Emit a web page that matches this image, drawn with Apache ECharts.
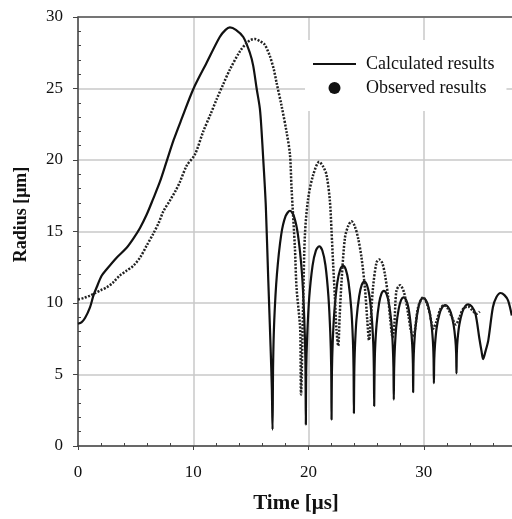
<!DOCTYPE html>
<html><head><meta charset="utf-8">
<script src="https://cdn.jsdelivr.net/npm/echarts@6/dist/echarts.min.js"></script>
<style>html,body{margin:0;padding:0;background:#fff;overflow:hidden}#c{width:540px;height:519px}</style>
</head><body><div id="c"></div>
<script>
// ---- data ----
const xTickLabels = [0, 10, 20, 30];
const yTickLabels = [0, 5, 10, 15, 20, 25, 30];
const seriesNames = ['Calculated results', 'Observed results'];

const calcTime = [0,0.3,0.61,1.04,1.33,1.62,2.05,2.49,3.35,4.22,4.8,5.38,5.95,6.53,7.11,7.69,8.3,8.99,10.0,11.16,12.3,12.8,13.18,13.7,14.34,14.91,15.2,15.5,15.78,15.93,16.07,16.2,16.3,16.51,16.71,16.82,16.88,
16.93,17.03,17.26,17.63,18.01,18.39,18.73,19.08,19.43,19.63,19.73,19.77,
19.80,19.89,20.06,20.35,20.64,20.93,21.20,21.47,21.73,21.89,21.97,22.0,
22.03,22.10,22.25,22.5,22.75,23.0,23.24,23.47,23.71,23.85,23.91,23.94,
23.97,24.03,24.16,24.40,24.62,24.85,25.06,25.28,25.49,25.62,25.67,25.7,
25.73,25.78,25.91,26.12,26.33,26.54,26.76,26.97,27.19,27.31,27.37,27.4,
27.43,27.49,27.61,27.83,28.04,28.25,28.46,28.67,28.87,29.0,29.06,29.08,
29.11,29.17,29.30,29.52,29.73,29.95,30.18,30.42,30.65,30.79,30.85,30.88,
30.91,30.98,31.12,31.37,31.61,31.85,32.10,32.35,32.59,32.74,32.81,32.84,
32.87,32.94,33.09,33.35,33.6,33.85,34.18,34.5,34.83,35.02,35.15,
35.35,35.6,36.0,36.3,36.66,37.0,37.32,37.64];
const calcRadius = [8.55,8.65,8.95,9.7,10.5,11.1,11.9,12.36,13.17,13.86,14.5,15.25,16.17,17.3,18.48,19.9,21.4,22.87,24.95,26.8,28.6,29.1,29.27,29.1,28.6,27.5,26.6,25.0,23.6,22.0,20.1,18.3,16.7,11.6,6.93,4.0,1.15,
5.74,8.8,12.0,14.77,16.07,16.45,16.08,14.8,12.1,8.98,5.99,1.5,
5.24,7.74,10.35,12.6,13.66,13.97,13.67,12.64,10.45,7.91,5.49,1.85,
5.08,7.23,9.48,11.42,12.33,12.6,12.34,11.47,9.61,7.45,5.39,2.3,
5.06,6.9,8.83,10.49,11.27,11.5,11.28,10.54,8.98,7.15,5.41,2.8,
5.22,6.83,8.52,9.96,10.65,10.85,10.66,10.01,8.64,7.05,5.52,3.24,
5.39,6.82,8.32,9.61,10.22,10.4,10.23,9.67,8.47,7.08,5.75,3.76,
5.74,7.06,8.44,9.63,10.19,10.35,10.2,9.69,8.62,7.37,6.18,4.39,
6.03,7.12,8.27,9.25,9.71,9.85,9.73,9.33,8.47,7.47,6.51,5.08,
6.53,7.49,8.5,9.37,9.78,9.9,9.75,9.2,7.5,6.6,6.08,
6.6,7.39,9.7,10.4,10.7,10.55,10.17,9.13];

const obsTime = [0,0.5,1.0,1.5,2.0,2.5,3.0,3.6,4.2,4.8,5.4,5.95,6.5,7.0,7.4,8.0,8.5,8.85,9.43,10.15,10.87,11.5,12.03,12.6,13.18,14.05,14.63,15.0,15.35,15.8,16.2,16.65,17.0,17.23,17.66,18.1,18.39,18.53,18.82,18.96,19.25,19.3,19.35,19.55,
19.69,19.97,20.4,20.93,21.3,21.57,21.86,22.0,22.14,22.29,22.43,22.58,22.7,22.87,23.16,23.45,23.73,24.0,24.3,24.6,24.89,25.1,25.25,25.4,25.6,25.9,26.13,26.4,26.63,26.9,27.1,27.3,27.45,27.63,27.95,28.3,28.65,28.9,29.08,29.25,29.51,29.95,30.25,30.53,30.82,31.1,31.45,31.75,32.1,32.5,32.78,33.1,33.42,33.85,34.2,34.57,34.86];
const obsRadius = [10.25,10.35,10.5,10.7,10.9,11.1,11.4,11.9,12.25,12.6,13.2,14.0,14.8,15.6,16.4,17.2,17.9,18.48,19.6,20.4,22.0,23.2,24.25,25.3,26.33,27.6,28.18,28.4,28.46,28.3,28.07,27.26,26.3,25.4,23.8,21.95,20.4,18.0,13.86,11.1,8.55,7.6,3.6,10.5,
14.78,17.3,18.94,19.87,19.5,18.94,17.1,15.0,12.7,10.4,8.09,7.0,9.0,11.55,14.55,15.4,15.71,15.4,14.55,13.17,11.1,8.8,7.4,8.8,11.1,12.82,13.05,12.8,12.0,10.5,8.8,7.6,8.5,10.86,11.25,10.7,9.24,8.0,7.62,8.2,9.7,10.4,10.0,9.24,8.2,8.7,9.6,9.85,9.6,8.9,8.5,9.0,9.6,9.75,9.5,9.24,9.4];

// ---- build ----
const zip = (a, b) => a.map((v, i) => [v, b[i]]);
const serif = '"Liberation Serif", "Times New Roman", serif';
const ink = '#111';
const chart = echarts.init(document.getElementById('c'), null, {renderer: 'canvas'});
chart.setOption({
  animation: false,
  backgroundColor: '#fff',
  grid: {left: 78, right: 1, top: 17, bottom: 69, containLabel: false},
  legend: {
    orient: 'vertical', left: 305, top: 40,
    backgroundColor: '#fff', padding: [15, 12, 14, 8],
    itemWidth: 43, itemHeight: 12, itemGap: 6,
    textStyle: {fontFamily: serif, fontSize: 18, color: ink, padding: [0, 0, 0, 5]},
    data: [
      {name: seriesNames[0], icon: 'path://M0,0H43V2H0Z', itemStyle: {color: ink}},
      {name: seriesNames[1], icon: 'circle', itemStyle: {color: ink}}
    ]
  },
  xAxis: [{
    type: 'value', min: 0, max: 40, interval: 10, position: 'bottom',
    name: 'Time [μs]', nameLocation: 'middle', nameGap: 47,
    nameTextStyle: {fontFamily: serif, fontWeight: 'bold', fontSize: 21, color: ink, padding: [0, 25, 0, 0]},
    axisLine: {show: true, lineStyle: {color: '#444', width: 1.5}},
    axisTick: {show: true, inside: false, length: 4, lineStyle: {color: '#444'}},
    minorTick: {show: true, splitNumber: 5, length: -3, lineStyle: {color: '#444'}},
    axisLabel: {
      fontFamily: serif, fontSize: 17, color: ink, margin: 18, showMaxLabel: false,
      formatter: v => xTickLabels.includes(v) ? String(v) : ''
    },
    splitLine: {show: true, lineStyle: {color: '#c8c8c8', width: 1.5}}
  }, {
    type: 'value', min: 0, max: 40, position: 'top',
    axisLine: {show: true, lineStyle: {color: '#555', width: 1.5}},
    axisTick: {show: false}, axisLabel: {show: false}, splitLine: {show: false}
  }],
  yAxis: {
    type: 'value', min: 0, max: 30, interval: 5,
    name: 'Radius [μm]', nameLocation: 'middle', nameGap: 48,
    nameTextStyle: {fontFamily: serif, fontWeight: 'bold', fontSize: 18, color: ink, padding: [0, 0, 0, 34]},
    axisLine: {show: true, lineStyle: {color: '#444', width: 1.5}},
    axisTick: {show: true, inside: false, length: 5, lineStyle: {color: '#444'}},
    minorTick: {show: true, splitNumber: 5, length: -3, lineStyle: {color: '#444'}},
    axisLabel: {
      fontFamily: serif, fontSize: 17, color: ink, margin: 15,
      formatter: v => yTickLabels.includes(v) ? String(v) : ''
    },
    splitLine: {show: true, lineStyle: {color: '#c8c8c8', width: 1.5}}
  },
  series: [{
    name: seriesNames[0], type: 'line', xAxisIndex: 0,
    data: zip(calcTime, calcRadius),
    showSymbol: false, smooth: 0.3, color: ink,
    itemStyle: {color: ink},
    lineStyle: {color: ink, width: 2.2}
  }, {
    name: seriesNames[1], type: 'line', xAxisIndex: 0,
    data: zip(obsTime, obsRadius),
    showSymbol: false, smooth: 0.3, color: ink,
    itemStyle: {color: ink},
    lineStyle: {color: '#222', width: 2.5, type: [2, 1.5]}
  }]
});
</script></body></html>
